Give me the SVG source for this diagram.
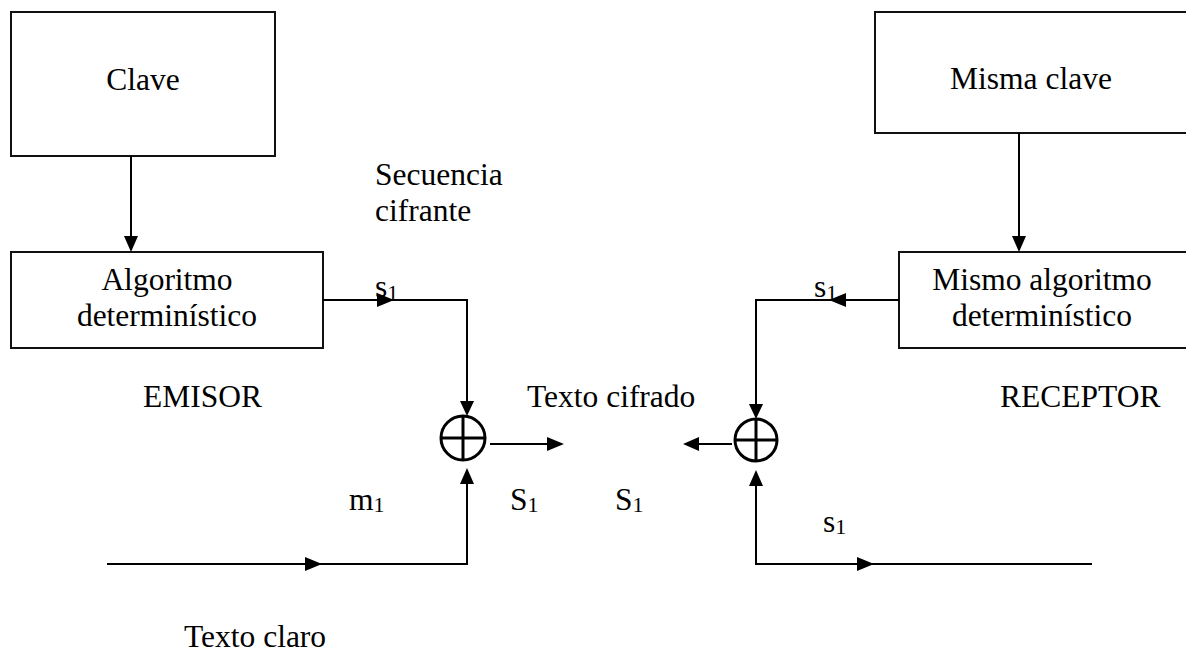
<svg xmlns="http://www.w3.org/2000/svg" width="1186" height="655" viewBox="0 0 1186 655">
  <style>
    .box { fill: #fff; stroke: #111; stroke-width: 2; }
    .wire { fill: none; stroke: #000; stroke-width: 2; }
    .xor { fill: none; stroke: #000; stroke-width: 3; }
    .head { fill: #000; }
    text { font-family: "Liberation Serif", "Times New Roman", serif; font-size: 31.5px; fill: #000; }
    .mid { text-anchor: middle; }
    .sub { font-size: 22px; }
  </style>
  <rect width="1186" height="655" fill="#fff"/>

  <!-- emitter side -->
  <g id="clave">
    <rect class="box" x="11" y="12" width="264" height="144"/>
    <text class="mid" x="143" y="90">Clave</text>
  </g>
  <g id="algoritmo">
    <rect class="box" x="11" y="252" width="312" height="96"/>
    <text class="mid" x="167" y="290">Algoritmo</text>
    <text class="mid" x="167" y="326">determinístico</text>
  </g>
  <g id="xor-emisor">
    <circle class="xor" cx="463" cy="438" r="22"/>
    <line class="xor" x1="441" y1="438" x2="485" y2="438"/>
    <line class="xor" x1="463" y1="416" x2="463" y2="460"/>
  </g>

  <!-- receiver side -->
  <g id="misma-clave">
    <rect class="box" x="875" y="12" width="320" height="121"/>
    <text class="mid" x="1031" y="89">Misma clave</text>
  </g>
  <g id="mismo-algoritmo">
    <rect class="box" x="899" y="252" width="296" height="96"/>
    <text class="mid" x="1042" y="290">Mismo algoritmo</text>
    <text class="mid" x="1042" y="326">determinístico</text>
  </g>
  <g id="xor-receptor">
    <circle class="xor" cx="756" cy="440" r="21"/>
    <line class="xor" x1="735" y1="440" x2="777" y2="440"/>
    <line class="xor" x1="756" y1="419" x2="756" y2="461"/>
  </g>

  <!-- connectors -->
  <g id="connectors">
    <!-- key to algorithm (emitter) -->
    <line class="wire" x1="131" y1="156" x2="131" y2="238"/>
    <polygon class="head" points="124,236 138,236 131,252"/>
    <!-- keystream to XOR (emitter) -->
    <polyline class="wire" points="323,300 467,300 467,402"/>
    <polygon class="head" points="377,293 377,307 394,300"/>
    <polygon class="head" points="460,401 474,401 467,416"/>
    <!-- plaintext to XOR -->
    <polyline class="wire" points="107,564 467,564 467,482"/>
    <polygon class="head" points="305,557 305,571 322,564"/>
    <polygon class="head" points="460,484 474,484 467,468"/>
    <!-- ciphertext out -->
    <line class="wire" x1="490" y1="444" x2="550" y2="444"/>
    <polygon class="head" points="547,437 547,451 564,444"/>

    <!-- key to algorithm (receiver) -->
    <line class="wire" x1="1019" y1="133" x2="1019" y2="238"/>
    <polygon class="head" points="1012,236 1026,236 1019,252"/>
    <!-- keystream to XOR (receiver) -->
    <polyline class="wire" points="899,300 756,300 756,405"/>
    <polygon class="head" points="846,293 846,307 829,300"/>
    <polygon class="head" points="749,404 763,404 756,419"/>
    <!-- recovered text out -->
    <polyline class="wire" points="1092,564 756,564 756,484"/>
    <polygon class="head" points="857,557 857,571 874,564"/>
    <polygon class="head" points="749,486 763,486 756,470"/>
    <!-- ciphertext in -->
    <line class="wire" x1="732" y1="444" x2="696" y2="444"/>
    <polygon class="head" points="699,437 699,451 683,444"/>
  </g>

  <!-- labels -->
  <text x="375" y="185">Secuencia</text>
  <text x="375" y="221">cifrante</text>
  <text x="375" y="297">s<tspan class="sub" dy="3">1</tspan></text>
  <text x="814" y="297">s<tspan class="sub" dy="3">1</tspan></text>
  <text x="143" y="407">EMISOR</text>
  <text x="527" y="407">Texto cifrado</text>
  <text x="1000" y="407">RECEPTOR</text>
  <text x="349" y="510">m<tspan class="sub" dy="2">1</tspan></text>
  <text x="510" y="510">S<tspan class="sub" dy="2">1</tspan></text>
  <text x="615" y="510">S<tspan class="sub" dy="2">1</tspan></text>
  <text x="823" y="532">s<tspan class="sub" dy="2">1</tspan></text>
  <text x="184" y="647">Texto claro</text>
</svg>
